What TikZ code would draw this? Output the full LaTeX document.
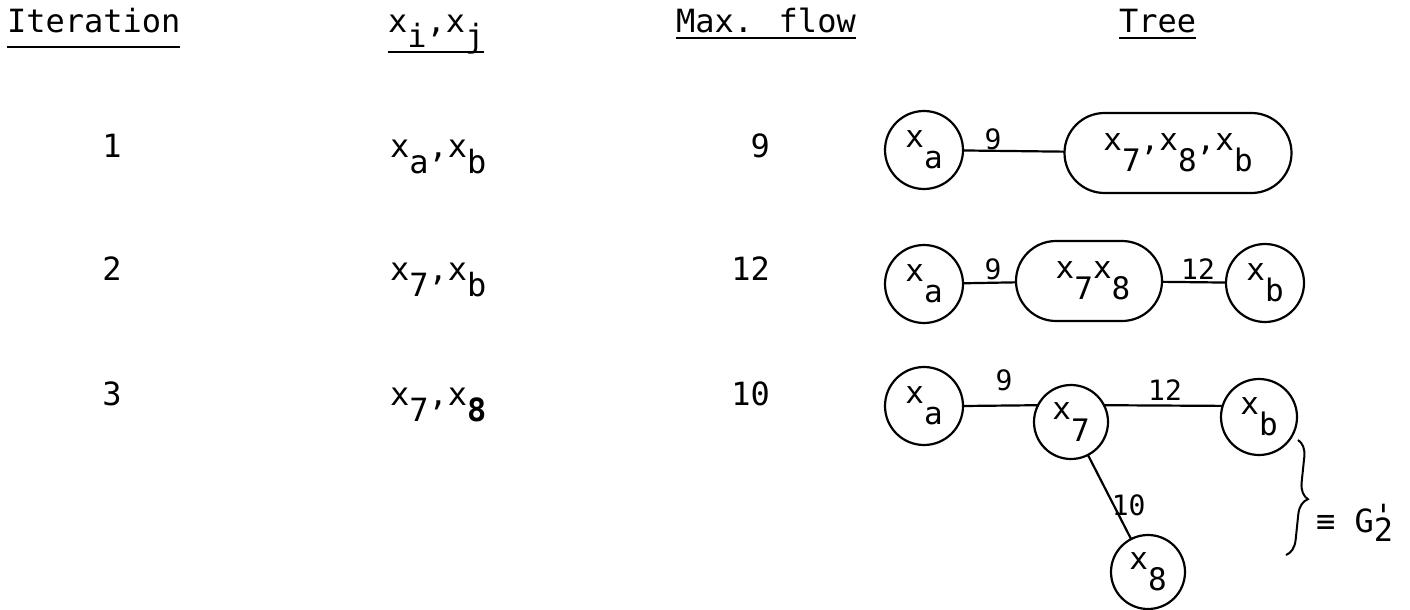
\documentclass[tikz,border=0pt]{standalone}
\usepackage{fontspec}
\setmainfont{DejaVu Sans Mono}
\usetikzlibrary{decorations.pathreplacing}
\newcommand{\lo}[2][0.53em]{\raisebox{-#1}{#2}}
\newcommand{\tlo}[1]{\raisebox{-0.69em}{#1}}
\begin{document}
\begin{tikzpicture}[x=1pt,y=-1pt,
  every node/.style={inner sep=0pt, outer sep=0pt},
  txt/.style={font=\fontsize{32}{36}\selectfont},
  hdr/.style={txt, anchor=base west},
  vx/.style={draw, circle, line width=2.2pt, minimum size=78pt, font=\fontsize{31}{34}\selectfont},
  pill/.style={draw, rounded corners=40pt, line width=2.2pt, minimum height=80pt, font=\fontsize{31}{34}\selectfont},
  link/.style={line width=2.2pt},
  ul/.style={line width=1.8pt},
  lab/.style={font=\fontsize{28}{30}\selectfont, anchor=base}]
\useasboundingbox (0,0) rectangle (1410,610);

% headers
\node[hdr] (hIt) at (7,33) {Iteration};
\node[hdr] (hX) at (388,33) {x\lo[0.45em]{i},x\lo[0.45em]{j}};
\node[hdr] (hMf) at (676,33) {Max. flow};
\node[hdr] (hTr) at (1119,33) {Tree};
\draw[ul] ([yshift=-14pt]hIt.base west) -- ([yshift=-14pt]hIt.base east);
\draw[ul] ([yshift=-19pt]hX.base west) -- ([yshift=-19pt]hX.base east);
\draw[ul] ([yshift=-5pt]hMf.base west) -- ([yshift=-5pt]hMf.base east);
\draw[ul] ([yshift=-5pt]hTr.base west) -- ([yshift=-5pt]hTr.base east);

% column entries
\node[txt, anchor=base] (i1) at (112,157) {1};
\node[txt, anchor=base] (i2) at (112,280) {2};
\node[txt, anchor=base] (i3) at (112,405) {3};
\node[txt, anchor=base west] (p1) at (390,157) {x\lo{a},x\lo{b}};
\node[txt, anchor=base west] (p2) at (390,280) {x\lo{7},x\lo{b}};
\node[txt, anchor=base west] (p3) at (390,405) {x\lo{7},x\lo{\textbf{8}}};
\node[txt, anchor=base east] (f1) at (770,157) {9};
\node[txt, anchor=base east] (f2) at (770,280) {12};
\node[txt, anchor=base east] (f3) at (770,405) {10};

% tree, iteration 1
\node[vx] (a1) at (924,150) {x\tlo{a}};
\node[pill, minimum width=227pt] (r1) at (1178,153) {x\tlo{7},x\tlo{8},x\tlo{b}};
\draw[link] (a1) -- (r1);
\node[lab] (l1) at (993,149) {9};

% tree, iteration 2
\node[vx] (a2) at (924,284) {x\tlo{a}};
\node[pill, minimum width=146pt] (r2) at (1089,281) {\hspace{8pt}x\tlo{7}x\tlo{8}};
\node[vx] (b2) at (1265,283) {x\tlo{b}};
\draw[link] (a2) -- (r2);
\draw[link] (r2) -- (b2);
\node[lab] (l2a) at (993,279) {9};
\node[lab] (l2b) at (1198,279) {12};

% tree, iteration 3
\node[vx] (a3) at (924,406) {x\tlo{a}};
\node[vx, minimum size=74pt] (s7) at (1071,422) {x\tlo{7}};
\node[vx, minimum size=76pt] (b3) at (1259,417) {x\tlo{b}};
\node[vx, minimum size=74pt] (s8) at (1148,572) {x\tlo{8}};
\draw[link] (a3.east) -- (s7.153);
\draw[link] (s7.27) -- (b3.163);
\draw[link] (s7) -- (s8) node[lab, pos=0.6, anchor=west, xshift=-2pt] (l3c) {10};
\node[lab] (l3a) at (1004,390) {9};
\node[lab] (l3b) at (1165,400) {12};

% brace and G'_2
\coordinate (bt) at (1298,440);
\coordinate (bb) at (1286,555);
\draw[line width=2pt, decorate, decoration={brace, amplitude=16pt}] (bt) -- (bb);
\node[txt, anchor=base west] (g2) at (1316,532) {≡ G\rlap{\raisebox{0.15em}{\textquotesingle}}\raisebox{-0.3em}{2}};
\end{tikzpicture}
\end{document}
